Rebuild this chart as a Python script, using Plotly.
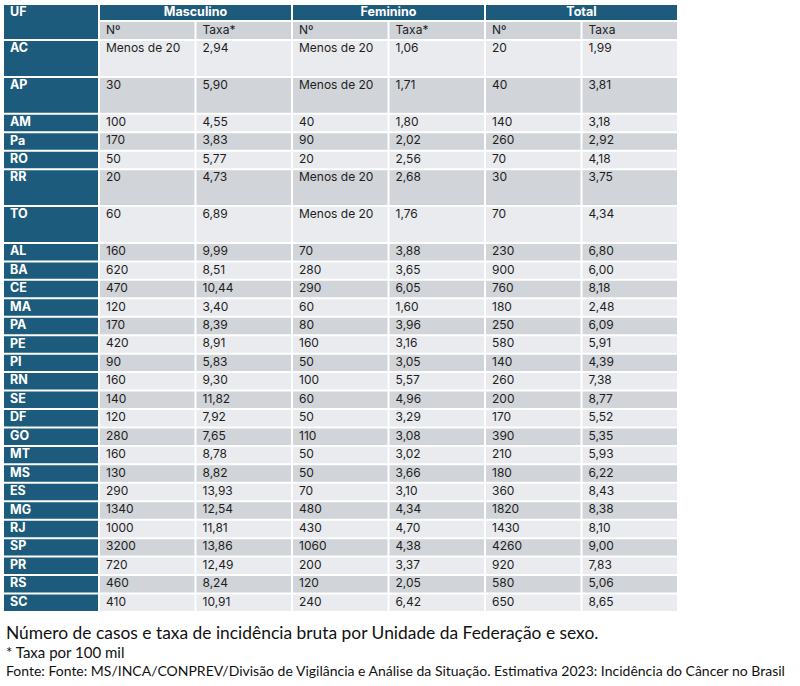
import plotly.graph_objects as go

# dados da tabela (None = "Menos de 20")
ufs = ["AC", "AP", "AM", "Pa", "RO", "RR", "TO", "AL", "BA", "CE", "MA", "PA", "PE", "PI",
       "RN", "SE", "DF", "GO", "MT", "MS", "ES", "MG", "RJ", "SP", "PR", "RS", "SC"]
masc_n = [None, 30, 100, 170, 50, 20, 60, 160, 620, 470, 120, 170, 420, 90,
          160, 140, 120, 280, 160, 130, 290, 1340, 1000, 3200, 720, 460, 410]
masc_taxa = [2.94, 5.90, 4.55, 3.83, 5.77, 4.73, 6.89, 9.99, 8.51, 10.44, 3.40, 8.39, 8.91, 5.83,
             9.30, 11.82, 7.92, 7.65, 8.78, 8.82, 13.93, 12.54, 11.81, 13.86, 12.49, 8.24, 10.91]
fem_n = [None, None, 40, 90, 20, None, None, 70, 280, 290, 60, 80, 160, 50,
         100, 60, 50, 110, 50, 50, 70, 480, 430, 1060, 200, 120, 240]
fem_taxa = [1.06, 1.71, 1.80, 2.02, 2.56, 2.68, 1.76, 3.88, 3.65, 6.05, 1.60, 3.96, 3.16, 3.05,
            5.57, 4.96, 3.29, 3.08, 3.02, 3.66, 3.10, 4.34, 4.70, 4.38, 3.37, 2.05, 6.42]
tot_n = [20, 40, 140, 260, 70, 30, 70, 230, 900, 760, 180, 250, 580, 140,
         260, 200, 170, 390, 210, 180, 360, 1820, 1430, 4260, 920, 580, 650]
tot_taxa = [1.99, 3.81, 3.18, 2.92, 4.18, 3.75, 4.34, 6.80, 6.00, 8.18, 2.48, 6.09, 5.91, 4.39,
            7.38, 8.77, 5.52, 5.35, 5.93, 6.22, 8.43, 8.38, 8.10, 9.00, 7.83, 5.06, 8.65]

grupos = ["Masculino", "Feminino", "Total"]
subcols = ["Nº", "Taxa*", "Nº", "Taxa*", "Nº", "Taxa"]

titulo = "Número de casos e taxa de incidência bruta por Unidade da Federação e sexo."
nota = "* Taxa por 100 mil"
fonte = ("Fonte: Fonte: MS/INCA/CONPREV/Divisão de Vigilância e Análise da Situação. "
         "Estimativa 2023: Incidência do Câncer no Brasil")

linhas_altas = {"AC", "AP", "RR", "TO"}

AZUL = "#1d5b7c"
CLARO = "#e9ebee"
ESCURO = "#d1d4d8"
CAB2 = "#cfd2d6"
TXT = "#1e1e1e"
FONTE_TAB = "Inter"


def fmt_n(v):
    return "Menos de 20" if v is None else str(v)


def fmt_t(v):
    return f"{v:.2f}".replace(".", ",")


# geometria (pixels)
uf_x0, uf_x1 = 3, 99
col_w = 96.5
col_x = [uf_x1 + col_w * i for i in range(7)]
h1_top, h1_bot, h2_bot = 4, 21, 40
unit = 18.45
gap = 1

row_top = []
row_bot = []
y = h2_bot
for uf in ufs:
    row_top.append(y)
    y += unit * (2 if uf in linhas_altas else 1)
    row_bot.append(y)
row_mid = [t + unit / 2 for t in row_top]

shapes = []


def cell(x0, x1, y0, y1, cor):
    shapes.append(dict(type="rect", xref="x", yref="y", x0=x0 + gap, x1=x1 - gap,
                       y0=y0 + gap, y1=y1 - gap, fillcolor=cor, line=dict(width=0),
                       layer="below"))


# cabeçalho
cell(uf_x0, uf_x1, h1_top, h2_bot, AZUL)
for g in range(3):
    cell(col_x[2 * g], col_x[2 * g + 2], h1_top, h1_bot, AZUL)
for c in range(6):
    cell(col_x[c], col_x[c + 1], h1_bot, h2_bot, CAB2)

# corpo
for i in range(len(ufs)):
    cell(uf_x0, uf_x1, row_top[i], row_bot[i], AZUL)
    cor = CLARO if i % 2 == 0 else ESCURO
    for c in range(6):
        cell(col_x[c], col_x[c + 1], row_top[i], row_bot[i], cor)

fig = go.Figure()

colunas = [
    [fmt_n(v) for v in masc_n],
    [fmt_t(v) for v in masc_taxa],
    [fmt_n(v) for v in fem_n],
    [fmt_t(v) for v in fem_taxa],
    [fmt_n(v) for v in tot_n],
    [fmt_t(v) for v in tot_taxa],
]

pad = 7
for c, textos in enumerate(colunas):
    fig.add_trace(go.Scatter(
        x=[col_x[c] + pad] * len(textos), y=row_mid, text=textos, mode="text",
        textposition="middle right", hoverinfo="skip",
        textfont=dict(family=FONTE_TAB, size=12, color=TXT)))

fig.add_trace(go.Scatter(
    x=[uf_x0 + pad] * len(ufs), y=row_mid, text=[f"<b>{u}</b>" for u in ufs], mode="text",
    textposition="middle right", hoverinfo="skip",
    textfont=dict(family=FONTE_TAB, size=12.5, color="white")))

fig.add_trace(go.Scatter(
    x=[col_x[c] + pad for c in range(6)], y=[(h1_bot + h2_bot) / 2] * 6, text=subcols,
    mode="text", textposition="middle right", hoverinfo="skip",
    textfont=dict(family=FONTE_TAB, size=12, color=TXT)))

fig.add_trace(go.Scatter(
    x=[(col_x[2 * g] + col_x[2 * g + 2]) / 2 for g in range(3)],
    y=[(h1_top + h1_bot) / 2 + 0.5] * 3, text=[f"<b>{g}</b>" for g in grupos],
    mode="text", textposition="middle center", hoverinfo="skip",
    textfont=dict(family=FONTE_TAB, size=12.5, color="white")))

fig.add_trace(go.Scatter(
    x=[uf_x0 + pad], y=[(h1_top + h1_bot) / 2 + 0.5], text=["<b>UF</b>"], mode="text",
    textposition="middle right", hoverinfo="skip",
    textfont=dict(family=FONTE_TAB, size=12.5, color="white")))

anot = [
    dict(x=4, y=632, text=titulo, font=dict(family="Lato", size=17.4, color="#111111")),
    dict(x=4, y=652, text=nota, font=dict(family="Lato", size=15, color="#111111")),
    dict(x=4, y=670, text=fonte, font=dict(family="Lato", size=14, color="#111111")),
]
for a in anot:
    a.update(xref="x", yref="y", xanchor="left", yanchor="middle", showarrow=False)

fig.update_layout(
    width=800, height=686,
    margin=dict(l=0, r=0, t=0, b=0),
    paper_bgcolor="white", plot_bgcolor="white",
    showlegend=False,
    xaxis=dict(range=[0, 800], visible=False, fixedrange=True),
    yaxis=dict(range=[686, 0], visible=False, fixedrange=True),
    shapes=shapes,
    annotations=anot,
)

# tira a margem padrão do <body> para a tabela começar no canto
fig.write_html("out.html", config={"displayModeBar": False},
               post_script="document.body.style.margin = '0';")
